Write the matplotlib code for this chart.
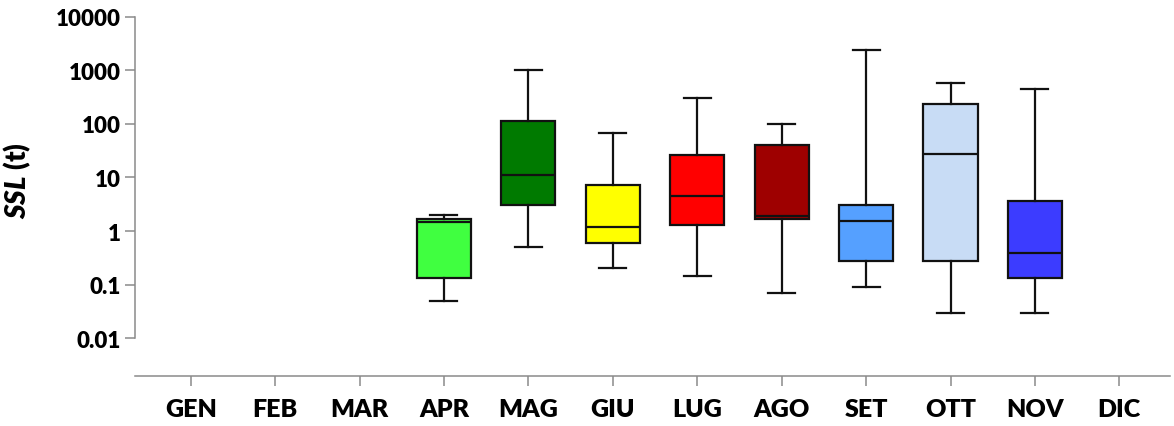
import matplotlib
matplotlib.use('Agg')
import matplotlib.pyplot as plt

# mesi e statistiche dei box (scala log)
mesi = ['GEN', 'FEB', 'MAR', 'APR', 'MAG', 'GIU', 'LUG', 'AGO', 'SET', 'OTT', 'NOV', 'DIC']
mesi_box = ['APR', 'MAG', 'GIU', 'LUG', 'AGO', 'SET', 'OTT', 'NOV']
whisk_lo = [0.05, 0.5, 0.2, 0.142, 0.069, 0.09, 0.030, 0.030]
q1 = [0.132, 3.0, 0.6, 1.31, 1.70, 0.275, 0.279, 0.134]
mediana = [1.45, 11.0, 1.2, 4.45, 1.88, 1.52, 27.5, 0.39]
q3 = [1.68, 114, 7.2, 26.7, 40.5, 3.06, 237, 3.59]
whisk_hi = [2.0, 1020, 68, 310, 98, 2410, 590, 451]
colori = ['#40FF40', '#007A00', '#FFFF00', '#FF0000', '#9E0000', '#55A0FF', '#C8DCF5', '#3C3CFF']

plt.rcParams['font.family'] = ['Lato', 'DejaVu Sans']
plt.rcParams['mathtext.fontset'] = 'custom'
plt.rcParams['mathtext.it'] = 'Lato:italic:heavy'
plt.rcParams['mathtext.rm'] = 'Lato:heavy'

fig = plt.figure(figsize=(11.74, 4.27), dpi=100)
ax = fig.add_axes([0.115, 0.117, 0.8816, 0.841])

stats = []
for i, m in enumerate(mesi_box):
    stats.append({'label': m, 'whislo': whisk_lo[i], 'q1': q1[i], 'med': mediana[i],
                  'q3': q3[i], 'whishi': whisk_hi[i], 'fliers': []})
pos = [mesi.index(m) + 1 for m in mesi_box]

bp = ax.bxp(stats, positions=pos, widths=0.64, patch_artist=True, showfliers=False,
            boxprops=dict(linewidth=1.6, edgecolor='#111111'),
            medianprops=dict(color='#111111', linewidth=1.6),
            whiskerprops=dict(color='#111111', linewidth=1.6),
            capprops=dict(color='#111111', linewidth=1.6))
for patch, c in zip(bp['boxes'], colori):
    patch.set_facecolor(c)

ax.set_yscale('log')
ax.set_ylim(0.00195, 10000)
ax.set_xlim(0.34, 12.6)
ax.set_yticks([0.01, 0.1, 1, 10, 100, 1000, 10000])
ax.set_yticklabels(['0.01', '0.1', '1', '10', '100', '1000', '10000'])
ax.minorticks_off()
ax.set_xticks(range(1, 13))
ax.set_xticklabels(mesi)

for s in ['top', 'right']:
    ax.spines[s].set_visible(False)
ax.spines['left'].set_bounds(0.01, 10000)
for s in ['left', 'bottom']:
    ax.spines[s].set_color('#8a8a8a')
    ax.spines[s].set_linewidth(1.1)

ax.tick_params(axis='y', length=7, width=1.1, color='#8a8a8a', labelsize=16, pad=3)
ax.tick_params(axis='x', length=7, width=1.1, color='#8a8a8a', labelsize=18, pad=9)
for t in ax.get_xticklabels() + ax.get_yticklabels():
    t.set_fontweight('heavy')

ax.set_ylabel(r'$SSL$ (t)', fontsize=20, fontweight='heavy')
ax.yaxis.set_label_coords(-0.099, 0.546)

fig.savefig('out.png', dpi=100)
